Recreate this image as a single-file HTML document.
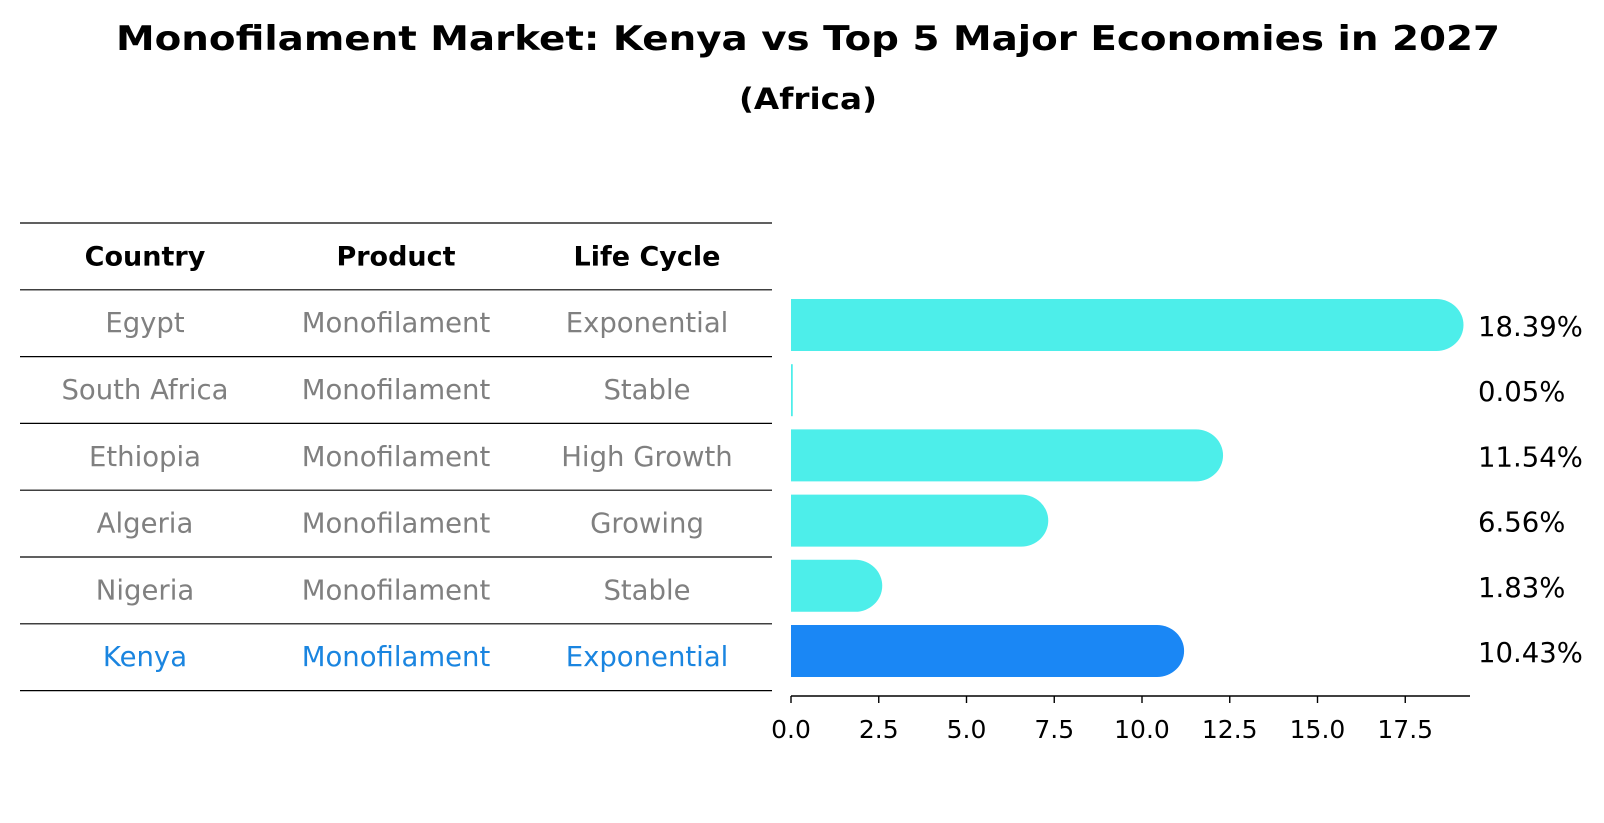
<!DOCTYPE html>
<html><head><meta charset="utf-8"><style>
html,body{margin:0;padding:0;background:#fff;}
svg{display:block;font-family:"DejaVu Sans","Liberation Sans",sans-serif;}
</style></head><body>
<svg id="chart" width="1604" height="823" viewBox="0 0 1604 823" xmlns="http://www.w3.org/2000/svg">
<text x="808" y="50" text-anchor="middle" font-size="34" font-weight="bold" textLength="1384" lengthAdjust="spacingAndGlyphs">Monofilament Market: Kenya vs Top 5 Major Economies in 2027</text>
<text x="808" y="109" text-anchor="middle" font-size="29" font-weight="bold" textLength="138" lengthAdjust="spacingAndGlyphs">(Africa)</text>
<g id="table"></g>
<g id="bars"></g>
</svg>
<script>
const countries = ["Egypt","South Africa","Ethiopia","Algeria","Nigeria","Kenya"];
const products = ["Monofilament","Monofilament","Monofilament","Monofilament","Monofilament","Monofilament"];
const lifeCycles = ["Exponential","Stable","High Growth","Growing","Stable","Exponential"];
const values = [18.39,0.05,11.54,6.56,1.83,10.43];
const valueLabels = ["18.39%","0.05%","11.54%","6.56%","1.83%","10.43%"];
const xTicks = [0,2.5,5,7.5,10,12.5,15,17.5];
const xTickLabels = ["0.0","2.5","5.0","7.5","10.0","12.5","15.0","17.5"];
const highlight = "Kenya";

const NS = "http://www.w3.org/2000/svg";
function mk(tag, attrs, parent){const e=document.createElementNS(NS,tag);for(const k in attrs)e.setAttribute(k,attrs[k]);parent.appendChild(e);return e;}

// table
const tbl = document.getElementById('table');
const colX = [145,396,647];
const headerY = 223, rowH = 66.8;
const headers = ["Country","Product","Life Cycle"];
const n = countries.length;
for(let i=0;i<=n+1;i++){
  const y = headerY + i*rowH;
  const l = mk('line',{x1:20,x2:772,y1:y,y2:y,stroke:'#000','stroke-width':1.2},tbl);
  
  
}
headers.forEach((h,j)=>{
  const t = mk('text',{x:colX[j],y:headerY+rowH/2+9,'text-anchor':'middle','font-size':27,'font-weight':'bold'},tbl);
  
  
  t.textContent=h;
});
for(let i=0;i<n;i++){
  const cy = headerY + (i+1)*rowH + rowH/2 + 9;
  const col = countries[i]===highlight ? '#1a85e0' : '#808080';
  [countries[i],products[i],lifeCycles[i]].forEach((v,j)=>{
    const t = mk('text',{x:colX[j],y:cy,'text-anchor':'middle','font-size':27.5,fill:col},tbl);
    
    
    t.textContent=v;
  });
}

// bars
const g = document.getElementById('bars');
const x0 = 791, pxPerUnit = 35.1;
const xScale = v => x0 + v*pxPerUnit;
const barTop0 = 299, barPitch = 65.2, barH = 52, cap = 27;
const axisY = 696;
for(let i=0;i<n;i++){
  const y = barTop0 + i*barPitch;
  const xe = xScale(values[i]);
  const isK = countries[i]===highlight;
  let p;
  if(values[i] < 0.2){
    p = mk('rect',{x:x0,y:y,width:Math.max(1.5,xe-x0),height:barH,fill:'#4deeea'},g);
  } else {
    const rx = cap, ry = barH/2;
    const d = `M${x0},${y} L${xe},${y} A${rx},${ry} 0 0 1 ${xe},${y+barH} L${x0},${y+barH} Z`;
    p = mk('path',{d:d,fill:isK?'#1a87f5':'#4deeea'},g);
  }
  
  
  const t = mk('text',{x:1478,y:y+barH/2+11,'font-size':27.5,fill:'#000'},g);
  
  
  t.textContent = valueLabels[i];
}
const ax = mk('line',{x1:x0,x2:1470,y1:axisY,y2:axisY,stroke:'#000','stroke-width':1.6},g);


xTicks.forEach((v,i)=>{
  const x = xScale(v);
  const tk = mk('line',{x1:x,x2:x,y1:axisY,y2:axisY+7,stroke:'#000','stroke-width':1.4},g);
  
  
  const t = mk('text',{x:x,y:axisY+42,'text-anchor':'middle','font-size':25},g);
  
  
  t.textContent = xTickLabels[i];
});
</script>
</body></html>
